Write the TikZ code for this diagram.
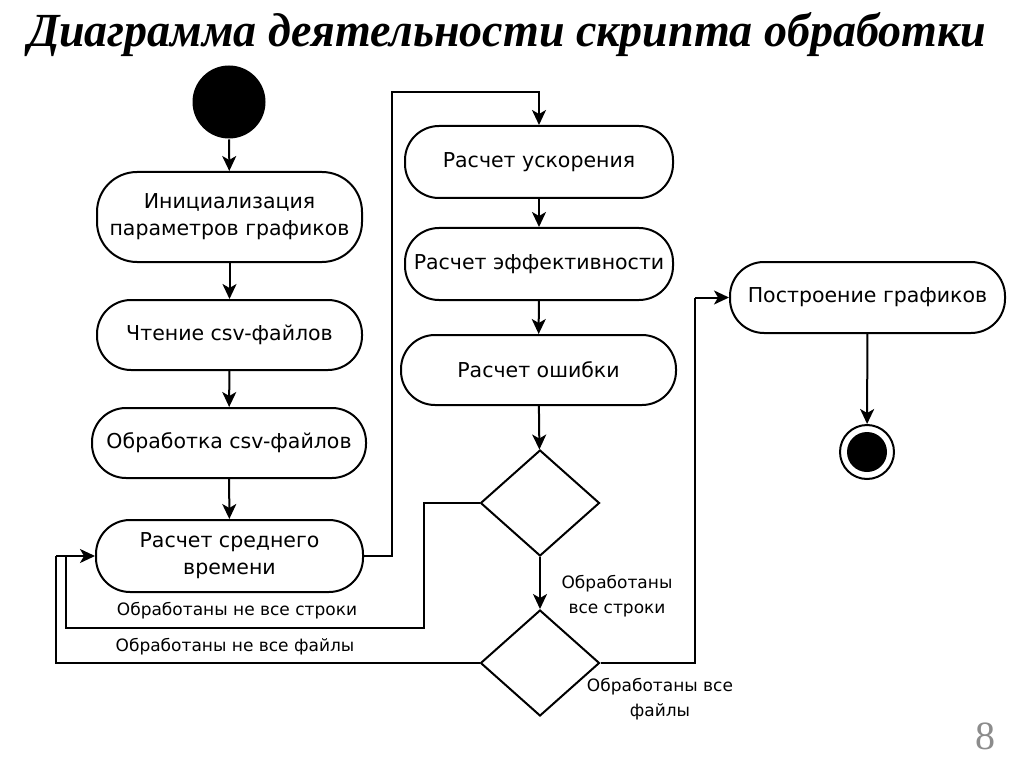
\documentclass[tikz,border=0pt]{standalone}
\usepackage{fontspec}
\setmainfont{DejaVu Sans}
\newfontfamily\titlefont{Liberation Serif}
\usetikzlibrary{shapes.geometric,arrows.meta}
\begin{document}
\begin{tikzpicture}[x=1pt,y=-1pt,
  line width=2pt,
  act/.style={draw,rectangle,rounded corners=34pt,align=center,inner sep=0pt,
    font=\fontsize{20.5}{27}\selectfont},
  dec/.style={draw,diamond,inner sep=0pt,minimum width=119pt,minimum height=106pt},
  lbl/.style={align=center,inner sep=0pt,font=\fontsize{17}{25}\selectfont},
  arr/.style={-{Stealth[length=15pt,width=14pt,inset=4pt]}}]
\useasboundingbox[fill=white] (0,0) rectangle (1024,767);
\node[anchor=base west,inner sep=0pt] (title) at (27,47)
  {\resizebox{958pt}{34pt}{\titlefont\bfseries\itshape Диаграмма деятельности скрипта обработки}};
\node[anchor=base,inner sep=0pt,text=black!45,font=\titlefont\fontsize{40}{40}\selectfont] (page) at (985,749) {8};

\node[fill=black,circle,minimum size=73pt,inner sep=0pt] (start) at (229,102) {};
\node[act,minimum width=265pt,minimum height=90pt,rounded corners=40pt] (n1) at (229.5,217) {Инициализация\\параметров графиков};
\node[act,minimum width=265pt,minimum height=70pt] (n2) at (229.5,335) {Чтение csv-файлов};
\node[act,minimum width=274pt,minimum height=70pt] (n3) at (229,443) {Обработка csv-файлов};
\node[act,minimum width=267pt,minimum height=72pt] (n4) at (229.5,556) {Расчет среднего\\времени};
\node[act,minimum width=268pt,minimum height=72pt] (n5) at (539,162) {Расчет ускорения};
\node[act,minimum width=268pt,minimum height=72pt] (n6) at (539,264) {Расчет эффективности};
\node[act,minimum width=275pt,minimum height=70pt] (n7) at (538.5,370) {Расчет ошибки};
\node[dec] (d1) at (540,503) {};
\node[dec] (d2) at (540,663) {};
\node[act,minimum width=275pt,minimum height=71pt] (n8) at (867.5,297.5) {Построение графиков};
\node[draw,circle,minimum size=54pt,inner sep=0pt] (end) at (867,452) {};
\fill (end.center) circle (20pt);

\coordinate (c1) at (392,92);
\coordinate (r1) at (424,628);
\coordinate (j1) at (66,556);
\coordinate (j0) at (56,556);
\coordinate (c2) at (695,297.5);

\draw[arr] (start) -- (n1);
\draw[arr] (n1) -- (n2);
\draw[arr] (n2) -- (n3);
\draw[arr] (n3) -- (n4);
\draw[arr] (n4.east) -| (c1) -| (n5.north);
\draw[arr] (n5) -- (n6);
\draw[arr] (n6) -- (n7);
\draw[arr] (n7) -- (d1);
\draw (d1.west) -| (r1) -| (j1);
\draw (d2.west) -| (j0);
\draw[arr] (j0) -- (n4.west);
\draw[arr] (d1.south) -- (d2.north);
\draw (d2.east) -| (c2);
\draw[arr] (c2) -- (n8.west);
\draw[arr] (n8) -- (end);

\node[lbl] (l1) at (237,611) {Обработаны не все строки};
\node[lbl] (l2) at (235,647) {Обработаны не все файлы};
\node[lbl] (l3) at (617,596) {Обработаны\\все строки};
\node[lbl] (l4) at (660,699) {Обработаны все\\файлы};
\end{tikzpicture}
\end{document}
